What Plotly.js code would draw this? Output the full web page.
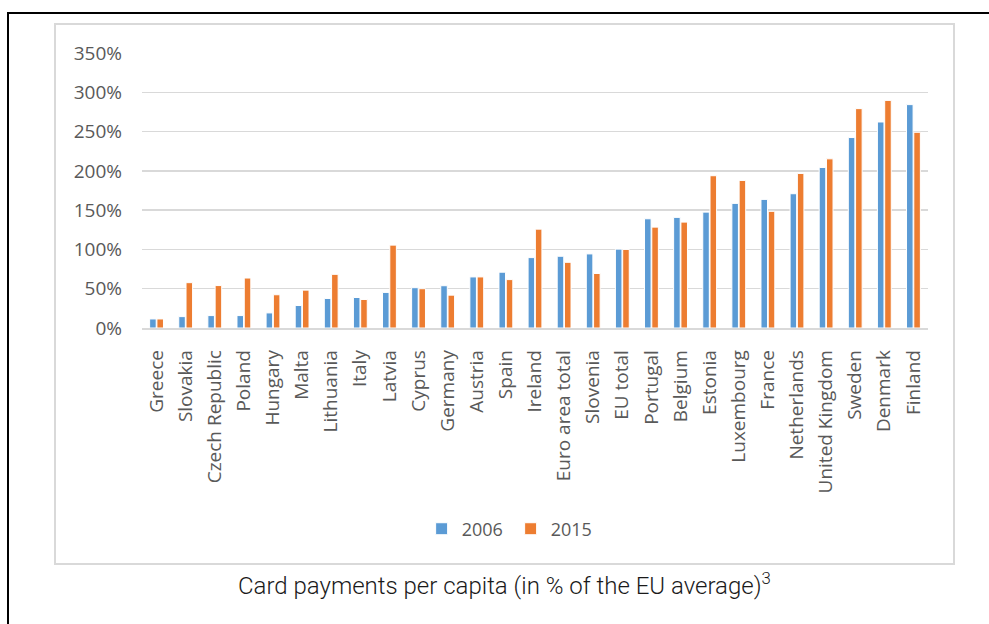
<!DOCTYPE html>
<html>
<head>
<meta charset="utf-8">
<script src="https://cdn.plot.ly/plotly-3.0.1.min.js"></script>
<style>
  html, body { margin: 0; padding: 0; background: #ffffff; width: 989px; height: 624px; overflow: hidden; }
  #outer { position: absolute; left: 7px; top: 12px; width: 990px; height: 620px;
           border-top: 2px solid #000; border-left: 2px solid #000; box-sizing: border-box; }
  #box { position: absolute; left: 54px; top: 23px; width: 901px; height: 542px;
         border: 2px solid #d9d9d9; box-sizing: border-box; }
  #chart { position: absolute; left: 0; top: 0; width: 989px; height: 624px; }
</style>
</head>
<body>
<div id="outer"></div>
<div id="box"></div>
<div id="chart"></div>
<script>
const countries = ["Greece", "Slovakia", "Czech Republic", "Poland", "Hungary", "Malta",
  "Lithuania", "Italy", "Latvia", "Cyprus", "Germany", "Austria", "Spain", "Ireland",
  "Euro area total", "Slovenia", "EU total", "Portugal", "Belgium", "Estonia",
  "Luxembourg", "France", "Netherlands", "United Kingdom", "Sweden", "Denmark", "Finland"];
const values2006 = [11.5, 14.5, 15.8, 15.8, 19.2, 28.6, 37.6, 38.8, 45.3, 51.3, 53.8, 65, 71,
  89.6, 91.3, 94.3, 100.4, 139, 140.8, 147.5, 158.6, 163.7, 170.9, 204.3, 242.4, 262.2, 284.3];
const values2015 = [11.5, 57.7, 54, 63.6, 42.3, 48.2, 68.3, 36.3, 105.5, 50, 41.8, 65, 61.6,
  125.8, 83.6, 69.4, 100, 128.4, 134.8, 193.8, 187.8, 148.5, 196.7, 215.3, 279.2, 289.7, 249.1];
const seriesNames = ["2006", "2015"];
const yTicks = [0, 50, 100, 150, 200, 250, 300, 350];
const yTickLabels = ["0%", "50%", "100%", "150%", "200%", "250%", "300%", "350%"];
const caption = "Card payments per capita (in % of the EU average)<sup>3</sup>";

const tickFont = { family: "Open Sans, sans-serif", size: 19, color: "#595959" };

const traces = [
  { type: "bar", name: seriesNames[0], x: countries, y: values2006,
    marker: { color: "#5B9BD5", line: { color: "#ffffff", width: 1 } }, hoverinfo: "none" },
  { type: "bar", name: seriesNames[1], x: countries, y: values2015,
    marker: { color: "#ED7D31", line: { color: "#ffffff", width: 1 } }, hoverinfo: "none" }
];

const layout = {
  width: 989, height: 624,
  margin: { l: 142, r: 61, t: 53, b: 296, pad: 0 },
  paper_bgcolor: "rgba(0,0,0,0)",
  plot_bgcolor: "rgba(0,0,0,0)",
  barmode: "group",
  bargap: 0.5,
  bargroupgap: 0.1,
  showlegend: true,
  legend: {
    orientation: "h", x: 0.469, xanchor: "center", y: -0.731, yanchor: "middle",
    font: { family: "Open Sans, sans-serif", size: 18, color: "#595959" },
    bgcolor: "rgba(0,0,0,0)", itemwidth: 30, entrywidth: 44, traceorder: "normal"
  },
  xaxis: {
    type: "category", tickangle: -90, tickfont: tickFont,
    showgrid: false, showline: true, linecolor: "#d9d9d9", linewidth: 1.5,
    ticks: "", ticklabelstandoff: 13, zeroline: false, fixedrange: true
  },
  yaxis: {
    range: [0, 350], tickvals: yTicks, ticktext: yTickLabels, tickfont: tickFont,
    showgrid: true, gridcolor: "#d9d9d9", gridwidth: 1.3,
    zeroline: false, showline: false, ticks: "", ticklabelstandoff: 19, fixedrange: true
  },
  annotations: [{
    text: caption, showarrow: false, xref: "paper", yref: "paper",
    x: (504 - 142) / 786, y: (328 - 584) / 275, xanchor: "center", yanchor: "middle",
    font: { family: "Roboto, sans-serif", size: 24, color: "#1a1a1a", weight: 300 }
  }]
};

Plotly.newPlot("chart", traces, layout, { staticPlot: true, displayModeBar: false });
</script>
</body>
</html>
